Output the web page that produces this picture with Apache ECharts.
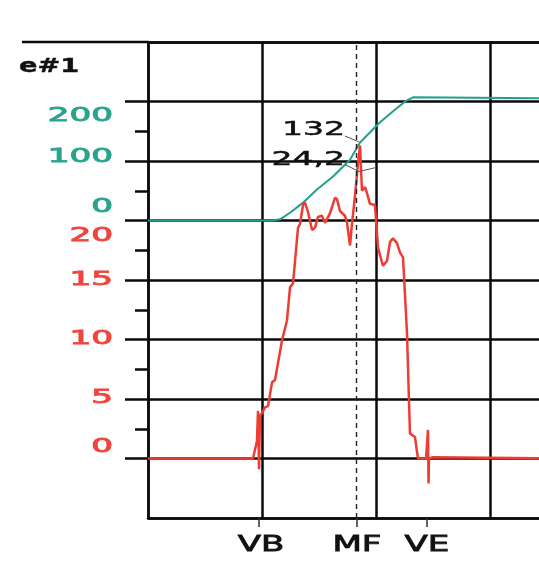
<!DOCTYPE html>
<html><head><meta charset="utf-8">
<script src="https://cdn.jsdelivr.net/npm/echarts@6/dist/echarts.min.js"></script>
<style>html,body{margin:0;padding:0;background:#fff}#c{width:539px;height:583px}</style>
</head><body><div id="c"></div>
<script>
// ---- data ----
const titleText = 'e#1';
const redTickLabels = [0, 5, 10, 15, 20];
const greenTickLabels = [0, 100, 200];
const markerNames = ['VB', 'MF', 'VE'];
const markerX = [0.974, 1.833, 2.447];
const redX = [0, 0.921, 0.947, 0.956, 0.965, 0.974, 0.982, 1.0, 1.026, 1.053, 1.088, 1.114, 1.175, 1.219, 1.246, 1.272, 1.316, 1.333, 1.36, 1.377, 1.404, 1.439, 1.465, 1.491, 1.526, 1.553, 1.596, 1.64, 1.658, 1.684, 1.728, 1.746, 1.772, 1.789, 1.816, 1.842, 1.86, 1.877, 1.904, 1.921, 1.947, 1.991, 2.018, 2.035, 2.061, 2.096, 2.123, 2.149, 2.184, 2.211, 2.237, 2.272, 2.298, 2.342, 2.368, 2.439, 2.456, 2.461, 2.465, 2.5, 3.693];
const redY = [0, 0, 1.1, 1.5, 4.0, -0.9, 3.6, 3.8, 4.3, 4.4, 6.4, 6.6, 9.9, 11.6, 14.4, 14.7, 19.4, 19.7, 21.3, 21.5, 20.7, 19.2, 19.4, 20.3, 20.4, 19.8, 20.6, 21.9, 21.8, 20.8, 20.4, 19.8, 17.9, 19.7, 22.1, 24.8, 26.3, 22.5, 22.8, 22.3, 21.4, 21.3, 17.7, 17.7, 16.2, 16.6, 18.2, 18.5, 18.1, 17.3, 16.9, 10.5, 2.1, 1.8, 0, 0, 2.4, -2.1, 0, 0.1, 0];
const greenX = [0, 1.088, 1.158, 1.246, 1.36, 1.482, 1.623, 1.772, 1.86, 2.035, 2.184, 2.263, 2.325, 3.693];
const greenY = [0, 0, 2, 13, 30, 52, 74, 102, 131, 165, 189, 201, 207, 205];
const cursorGreenValue = 132;
const cursorRedValue = 24.2;
const cursorGreenText = '132';
const cursorRedText = '24,2';

// ---- style ----
const RED = '#ee3b33', RED_TXT = '#f0443c', GREEN = '#22a08c', GREEN_TXT = '#28a48e', BLACK = '#0a0a0a';
const GRID_W = 2.5;
const X_MAX = 3.693;
const redMajor = []; for (let v = 0; v <= 30; v += 5) redMajor.push(v);
const redMinor = []; for (let v = 2.5; v <= 27.5; v += 5) redMinor.push(v);
const redNudge = {20: 16, 5: -1, 0: -11};
const greenNudge = {200: 15, 100: -4, 0: -13};

const chart = echarts.init(document.getElementById('c'), null, {renderer: 'canvas'});
const hiddenParts = {axisLabel: {show: false}, splitLine: {show: false}};
const option = {
  animation: false,
  backgroundColor: '#fff',
  grid: {left: 148, top: 42, width: 421, height: 476, show: false, outerBoundsMode: 'none', containLabel: false},
  xAxis: [{
    type: 'value', min: 0, max: X_MAX, interval: 1, position: 'top',
    axisLine: {show: true, onZero: false, lineStyle: {color: BLACK, width: GRID_W}},
    axisTick: {show: false},
    axisLabel: {show: false},
    splitLine: {show: true, lineStyle: {color: BLACK, width: GRID_W}}
  }, Object.assign({
    type: 'value', min: 0, max: X_MAX, position: 'bottom',
    axisLine: {show: true, onZero: false, lineStyle: {color: BLACK, width: GRID_W}},
    axisTick: {show: true, customValues: markerX, length: 9, lineStyle: {color: '#333', width: 1.5}}
  }, hiddenParts)],
  yAxis: [{
    type: 'value', min: -5, max: 35, interval: 5, position: 'left',
    axisLine: {show: true, onZero: false, lineStyle: {color: BLACK, width: GRID_W}},
    axisTick: {show: false},
    axisLabel: {show: false},
    splitLine: {show: true, lineStyle: {color: BLACK, width: GRID_W}}
  }, Object.assign({
    type: 'value', min: -5, max: 35, position: 'left', axisLine: {show: false},
    axisTick: {show: true, customValues: redMajor, length: 23, lineStyle: {color: BLACK, width: GRID_W}}
  }, hiddenParts), Object.assign({
    type: 'value', min: -5, max: 35, position: 'left', axisLine: {show: false},
    axisTick: {show: true, customValues: redMinor, length: 13, lineStyle: {color: BLACK, width: GRID_W}}
  }, hiddenParts), {
    type: 'value', min: -500, max: 300, interval: 100, position: 'right', show: false,
    splitLine: {show: false}
  }],
  series: [{
    name: 'green', type: 'line', xAxisIndex: 0, yAxisIndex: 3,
    data: greenX.map((x, i) => [x, greenY[i]]),
    showSymbol: false, lineStyle: {color: GREEN, width: 2}, z: 3,
    markLine: {
      silent: true, symbol: ['none', 'none'], label: {show: false},
      lineStyle: {type: [5, 4], color: '#222', width: 1.4},
      data: [{xAxis: markerX[1]}]
    }
  }, {
    name: 'red', type: 'line', xAxisIndex: 0, yAxisIndex: 0,
    data: redX.map((x, i) => [x, redY[i]]),
    showSymbol: false, lineStyle: {color: RED, width: 2.5}, z: 4
  }]
};
chart.setOption(option);

const gfx = [];
const xPx = v => chart.convertToPixel({xAxisIndex: 0}, v);
const yRed = v => chart.convertToPixel({yAxisIndex: 0}, v);
const yGreen = v => chart.convertToPixel({yAxisIndex: 3}, v);
const wide = (text, x, y, align, font, fill, sx, sw) => ({
  type: 'text', x: x, y: y, scaleX: sx, z: 10,
  style: {text: text, font: font, fill: fill, stroke: sw ? fill : null, lineWidth: sw || 0, align: align, verticalAlign: 'middle'}
});
const labelRight = 113;
redTickLabels.forEach(v => gfx.push(wide(String(v), labelRight, yRed(v) + (redNudge[v] || 0), 'right', 'normal 19px "DejaVu Sans"', RED_TXT, 1.8, 0.9)));
greenTickLabels.forEach(v => gfx.push(wide(String(v), labelRight, yGreen(v) + (greenNudge[v] || 0), 'right', 'normal 19px "DejaVu Sans"', GREEN_TXT, 1.8, 0.9)));
const yBottom = yRed(-5), yTop = yRed(35);
markerNames.forEach((n, i) => gfx.push(wide(n, xPx(markerX[i]) + (i === 0 ? 2 : 0), yBottom + 27, 'center', 'normal 22px "DejaVu Sans"', '#111', 1.55, 0.8)));
gfx.push(wide(titleText, 19, yTop + 25, 'left', 'bold 19px "DejaVu Sans"', '#111', 1.43, 0.4));
// top border extension
gfx.push({type: 'line', shape: {x1: 22, y1: yTop, x2: xPx(0), y2: yTop}, style: {stroke: BLACK, lineWidth: GRID_W}});
// cursor annotations
const cx = xPx(markerX[1]);
const gy = yGreen(cursorGreenValue), ry = yRed(cursorRedValue);
gfx.push(wide(cursorGreenText, cx - 12, gy - 12, 'right', 'normal 20px "DejaVu Sans"', '#111', 1.65, 0.5));
gfx.push(wide(cursorRedText, cx - 12, ry - 11, 'right', 'normal 20px "DejaVu Sans"', '#111', 1.65, 0.5));
gfx.push({type: 'polyline', shape: {points: [[cx - 12, gy - 6], [cx + 2, gy]]}, style: {stroke: '#555', lineWidth: 1, fill: null}, z: 10});
gfx.push({type: 'polyline', shape: {points: [[cx - 12, ry - 6], [cx + 2, ry + 1], [cx + 19, ry - 3]]}, style: {stroke: '#555', lineWidth: 1, fill: null}, z: 10});
chart.setOption({graphic: {elements: gfx}});
</script></body></html>
